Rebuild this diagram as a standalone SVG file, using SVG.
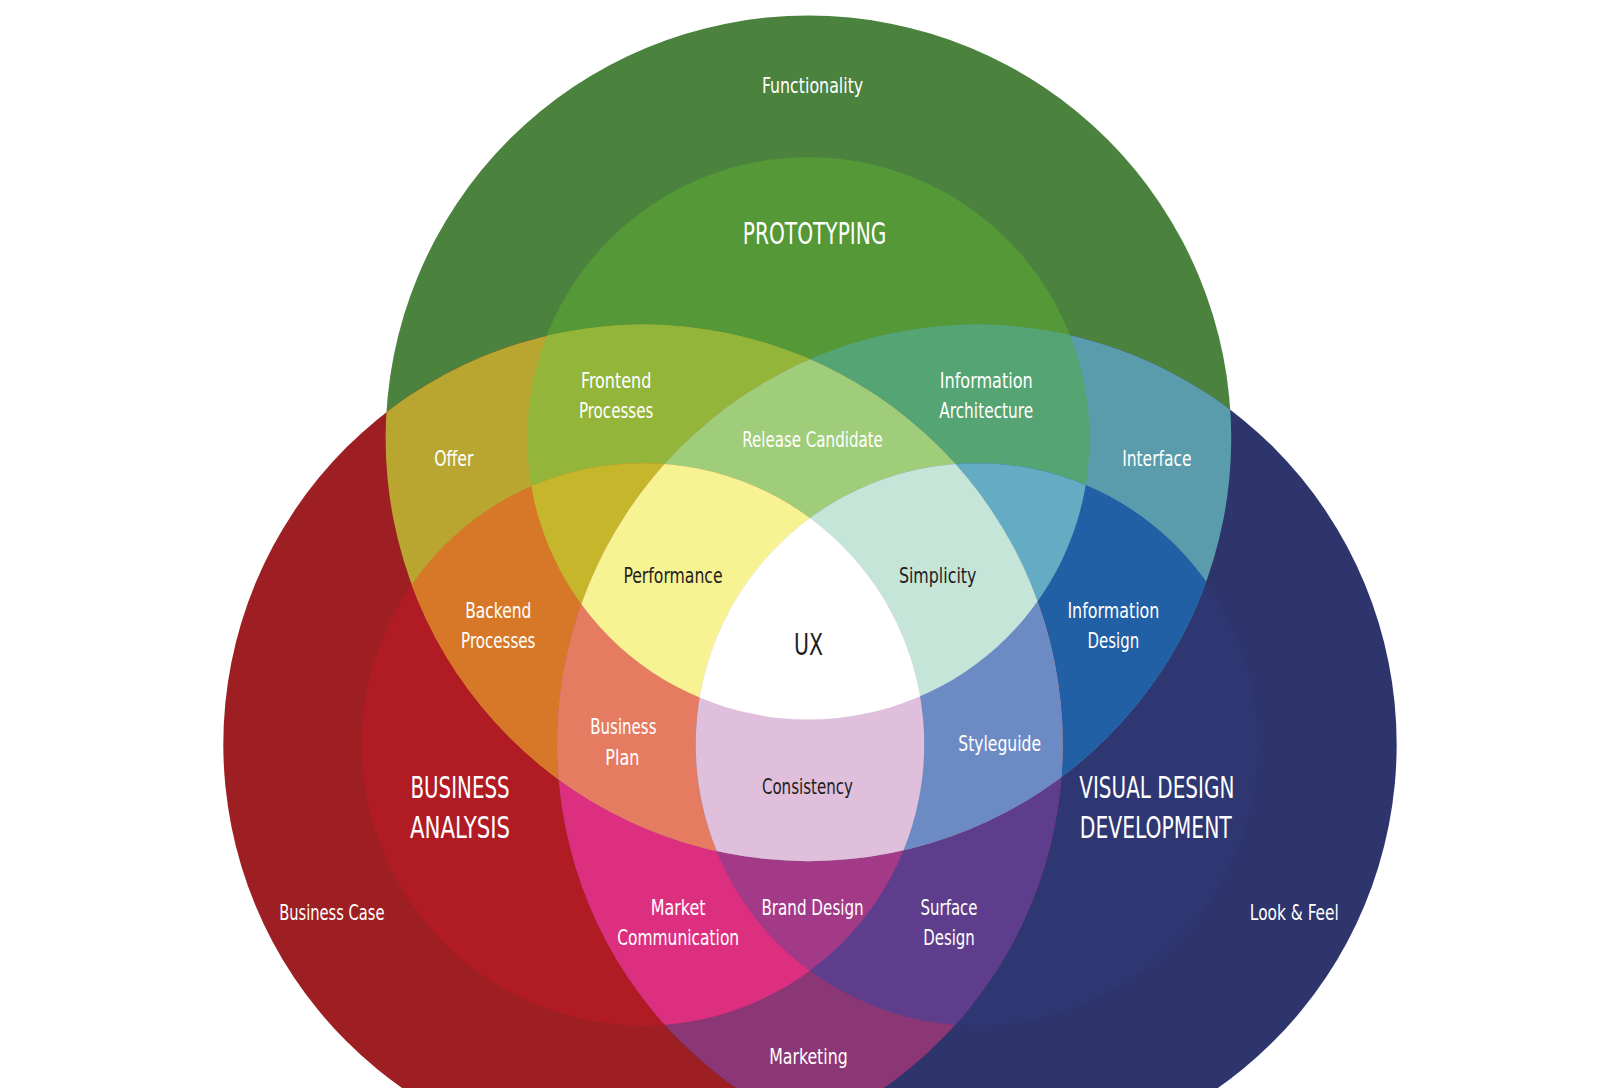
<svg xmlns="http://www.w3.org/2000/svg" xmlns:xlink="http://www.w3.org/1999/xlink" width="1623" height="1088" viewBox="0 0 1623 1088">
<defs>
<circle id="G1" cx="782" cy="424" r="409"/><circle id="G2" cx="782" cy="424" r="272"/>
<circle id="R1" cx="622" cy="720" r="406"/><circle id="R2" cx="622" cy="720" r="272"/>
<circle id="B1" cx="945" cy="720" r="406"/><circle id="B2" cx="945" cy="720" r="272"/>
<clipPath id="cG1"><use href="#G1"/></clipPath><clipPath id="cG2"><use href="#G2"/></clipPath>
<clipPath id="cR1"><use href="#R1"/></clipPath><clipPath id="cR2"><use href="#R2"/></clipPath>
<clipPath id="cB1"><use href="#B1"/></clipPath><clipPath id="cB2"><use href="#B2"/></clipPath>
</defs>
<style>
text{font-family:"DejaVu Sans Condensed","DejaVu Sans",sans-serif;font-size:21px;fill:#fff;text-anchor:middle}
.big{font-size:29px}
.dk{fill:#1e1e1e}
</style>
<rect width="1623" height="1088" fill="#fff"/>
<g transform="scale(1.0338)">
<g id="regions">
<use href="#G1" fill="#4b823e"/><use href="#R1" fill="#9d1f23"/><use href="#B1" fill="#2e356c"/>
<use href="#G2" fill="#559837"/><use href="#R2" fill="#b11c24"/><use href="#B2" fill="#2e3772"/>
<g clip-path="url(#cG1)"><use href="#R1" fill="#b8a631"/><use href="#B1" fill="#5a9cab"/></g>
<g clip-path="url(#cR1)"><use href="#B1" fill="#8b3675"/></g>
<g clip-path="url(#cG2)"><use href="#R1" fill="#93b539"/><use href="#B1" fill="#55a473"/></g>
<g clip-path="url(#cG1)"><use href="#R2" fill="#d77828"/><use href="#B2" fill="#2160a4"/></g>
<g clip-path="url(#cR2)"><use href="#B1" fill="#dc2f80"/></g>
<g clip-path="url(#cR1)"><use href="#B2" fill="#5d3d8c"/></g>
<g clip-path="url(#cG1)"><g clip-path="url(#cR1)"><use href="#B1" fill="#c08a6a"/></g></g>
<g clip-path="url(#cG2)"><use href="#R2" fill="#c6b62b"/><use href="#B2" fill="#64acc3"/></g>
<g clip-path="url(#cR2)"><use href="#B2" fill="#a33a87"/></g>
<g clip-path="url(#cG2)"><g clip-path="url(#cR1)"><use href="#B1" fill="#a0cd7a"/></g></g>
<g clip-path="url(#cG1)"><g clip-path="url(#cR2)"><use href="#B1" fill="#e57c62"/></g></g>
<g clip-path="url(#cG1)"><g clip-path="url(#cR1)"><use href="#B2" fill="#6c8bc4"/></g></g>
<g clip-path="url(#cG2)"><g clip-path="url(#cR2)"><use href="#B1" fill="#f8f392"/></g></g>
<g clip-path="url(#cG2)"><g clip-path="url(#cR1)"><use href="#B2" fill="#c5e5d9"/></g></g>
<g clip-path="url(#cG1)"><g clip-path="url(#cR2)"><use href="#B2" fill="#dfbfdb"/></g></g>
<g clip-path="url(#cG2)"><g clip-path="url(#cR2)"><use href="#B2" fill="#ffffff"/></g></g>
</g>
<g id="labels">
<text x="786" y="90" textLength="98" lengthAdjust="spacingAndGlyphs">Functionality</text>
<text class="big" x="788" y="236" textLength="139" lengthAdjust="spacingAndGlyphs">PROTOTYPING</text>
<text x="596" y="375" textLength="68" lengthAdjust="spacingAndGlyphs">Frontend</text>
<text x="596" y="404" textLength="72" lengthAdjust="spacingAndGlyphs">Processes</text>
<text x="954" y="375" textLength="90" lengthAdjust="spacingAndGlyphs">Information</text>
<text x="954" y="404" textLength="91" lengthAdjust="spacingAndGlyphs">Architecture</text>
<text x="439" y="451" textLength="38" lengthAdjust="spacingAndGlyphs">Offer</text>
<text x="786" y="432" textLength="136" lengthAdjust="spacingAndGlyphs">Release Candidate</text>
<text x="1119" y="451" textLength="67" lengthAdjust="spacingAndGlyphs">Interface</text>
<text class="dk" x="651" y="564" textLength="96" lengthAdjust="spacingAndGlyphs">Performance</text>
<text class="dk" x="907" y="564" textLength="75" lengthAdjust="spacingAndGlyphs">Simplicity</text>
<text x="482" y="598" textLength="64" lengthAdjust="spacingAndGlyphs">Backend</text>
<text x="482" y="627" textLength="72" lengthAdjust="spacingAndGlyphs">Processes</text>
<text x="1077" y="598" textLength="89" lengthAdjust="spacingAndGlyphs">Information</text>
<text x="1077" y="627" textLength="50" lengthAdjust="spacingAndGlyphs">Design</text>
<text class="big dk" x="782" y="634" textLength="28" lengthAdjust="spacingAndGlyphs">UX</text>
<text x="603" y="710" textLength="64" lengthAdjust="spacingAndGlyphs">Business</text>
<text x="602" y="740" textLength="33" lengthAdjust="spacingAndGlyphs">Plan</text>
<text x="967" y="726" textLength="80" lengthAdjust="spacingAndGlyphs">Styleguide</text>
<text class="dk" x="781" y="768" textLength="88" lengthAdjust="spacingAndGlyphs">Consistency</text>
<text class="big" x="445" y="772" textLength="96" lengthAdjust="spacingAndGlyphs">BUSINESS</text>
<text class="big" x="445" y="811" textLength="97" lengthAdjust="spacingAndGlyphs">ANALYSIS</text>
<text class="big" x="1119" y="772" textLength="150" lengthAdjust="spacingAndGlyphs">VISUAL DESIGN</text>
<text class="big" x="1118" y="811" textLength="147" lengthAdjust="spacingAndGlyphs">DEVELOPMENT</text>
<text x="321" y="890" textLength="102" lengthAdjust="spacingAndGlyphs">Business Case</text>
<text x="656" y="885" textLength="53" lengthAdjust="spacingAndGlyphs">Market</text>
<text x="656" y="914" textLength="118" lengthAdjust="spacingAndGlyphs">Communication</text>
<text x="786" y="885" textLength="99" lengthAdjust="spacingAndGlyphs">Brand Design</text>
<text x="918" y="885" textLength="55" lengthAdjust="spacingAndGlyphs">Surface</text>
<text x="918" y="914" textLength="50" lengthAdjust="spacingAndGlyphs">Design</text>
<text x="1252" y="890" textLength="86" lengthAdjust="spacingAndGlyphs">Look &amp; Feel</text>
<text x="782" y="1029" textLength="76" lengthAdjust="spacingAndGlyphs">Marketing</text>
</g>
</g>
</svg>
